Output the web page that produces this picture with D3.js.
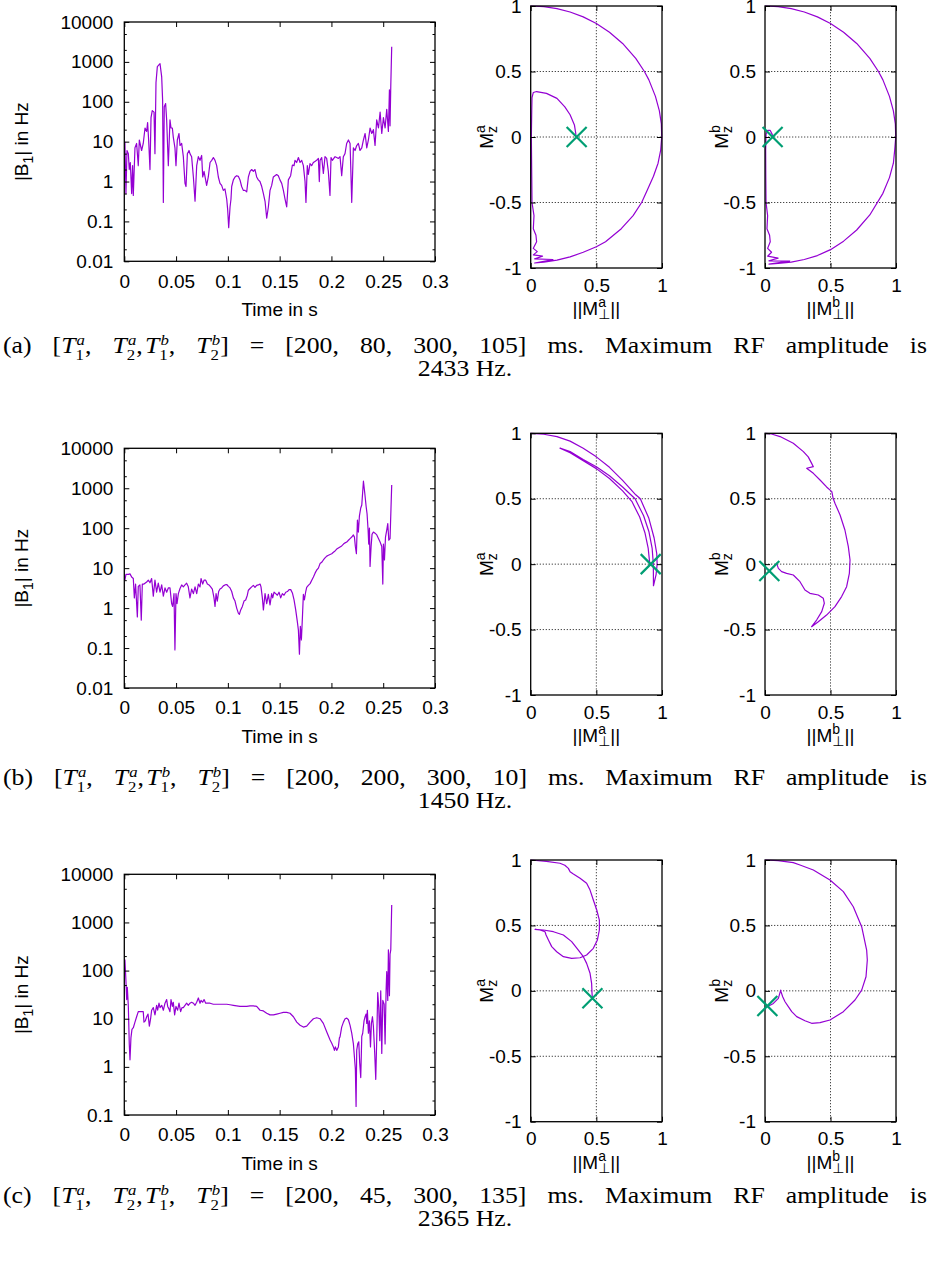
<!DOCTYPE html>
<html><head><meta charset="utf-8">
<script src="https://cdn.jsdelivr.net/npm/d3@7"></script>
<style>body{margin:0;background:#fff}svg{display:block}</style>
</head><body>
<svg id="fig" width="930" height="1265"></svg>
<script>
// ---------------- DATA ----------------
const timeTicks = [0, 0.05, 0.1, 0.15, 0.2, 0.25, 0.3];
const b1TicksAB = [0.01, 0.1, 1, 10, 100, 1000, 10000];
const b1TicksC = [0.1, 1, 10, 100, 1000, 10000];
const mzTicks = [-1, -0.5, 0, 0.5, 1];
const mperpTicks = [0, 0.5, 1];

// |B1| (Hz) versus time (s)
const b1_a = [[0.0006,10],[0.0016,0.5],[0.0026,6],[0.0039,5],[0.0048,2],[0.0058,3],[0.0071,0.5],[0.0080,2.5],[0.0087,0.45],[0.0103,7],[0.0119,9],[0.0135,2.5],[0.0145,11],[0.0167,6],[0.0183,9],[0.0200,22],[0.0216,18],[0.0225,30],[0.0235,11],[0.0248,2],[0.0258,40],[0.0270,60],[0.0287,55],[0.0296,5],[0.0306,300],[0.0319,760],[0.0345,900],[0.0361,420],[0.0370,110],[0.0377,0.3],[0.0386,75],[0.0399,90],[0.0409,35],[0.0425,2.5],[0.0441,35],[0.0451,22],[0.0464,22],[0.0473,13],[0.0489,7],[0.0499,2.5],[0.0512,11],[0.0528,16],[0.0538,8],[0.0554,9],[0.0570,4.2],[0.0586,0.9],[0.0596,0.75],[0.0609,5],[0.0625,6],[0.0634,5],[0.0650,4.2],[0.0667,1.3],[0.0683,0.32],[0.0699,2.5],[0.0715,4.2],[0.0731,3.4],[0.0747,4.5],[0.0757,1.3],[0.0770,1.8],[0.0795,0.8],[0.0811,1.3],[0.0828,3],[0.0844,3.4],[0.0860,4],[0.0876,3.4],[0.0892,2.5],[0.0908,1.3],[0.0924,0.9],[0.0940,0.8],[0.0956,0.6],[0.0972,0.65],[0.0989,0.36],[0.0998,0.2],[0.1008,0.07],[0.1021,0.23],[0.1030,0.36],[0.1037,0.75],[0.1053,1.1],[0.1069,1.3],[0.1085,1.4],[0.1101,1.35],[0.1117,1.1],[0.1133,0.75],[0.1149,0.6],[0.1165,0.6],[0.1182,0.55],[0.1198,1.3],[0.1214,1.8],[0.1230,2],[0.1246,1.8],[0.1262,2],[0.1278,1.3],[0.1294,1.1],[0.1310,1],[0.1327,0.75],[0.1343,0.5],[0.1359,0.32],[0.1375,0.12],[0.1391,0.23],[0.1407,0.6],[0.1423,0.8],[0.1439,1.3],[0.1455,1.4],[0.1471,1.5],[0.1487,1.4],[0.1503,1.1],[0.1520,0.9],[0.1536,0.6],[0.1552,0.36],[0.1568,0.23],[0.1584,1.1],[0.1606,1.4],[0.1623,2.6],[0.1639,2.5],[0.1648,3.4],[0.1664,3],[0.1681,4],[0.1697,3],[0.1713,3.4],[0.1729,2.5],[0.1745,1],[0.1754,0.3],[0.1767,2.5],[0.1777,1.5],[0.1793,2.8],[0.1809,2.5],[0.1825,3],[0.1841,3.2],[0.1857,3.4],[0.1874,3.8],[0.1883,1],[0.1890,3.4],[0.1906,4],[0.1922,1.6],[0.1938,4.2],[0.1954,3.8],[0.1970,1.8],[0.1986,0.45],[0.1996,4],[0.2009,3.4],[0.2035,4.2],[0.2051,4],[0.2067,3.8],[0.2083,4.2],[0.2099,1.4],[0.2115,4.2],[0.2131,5],[0.2147,9],[0.2164,11],[0.2180,9],[0.2196,0.3],[0.2212,7],[0.2228,6],[0.2244,8],[0.2260,9],[0.2276,6],[0.2293,7],[0.2309,11],[0.2325,16],[0.2341,7],[0.2357,11],[0.2373,22],[0.2389,16],[0.2405,20],[0.2421,8],[0.2437,35],[0.2454,22],[0.2470,55],[0.2486,16],[0.2502,40],[0.2518,22],[0.2534,65],[0.2550,18],[0.2560,200],[0.2566,25],[0.2573,250],[0.2582,2400]];

const b1_b = [[0.0006,5],[0.0016,7],[0.0039,7],[0.0055,7.2],[0.0071,6],[0.0087,5.5],[0.0097,1.8],[0.0109,4],[0.0126,0.6],[0.0135,3.5],[0.0151,3.8],[0.0164,0.5],[0.0174,4],[0.0190,4],[0.0216,4.5],[0.0232,5],[0.0248,4.3],[0.0264,5.5],[0.0280,2],[0.0296,5],[0.0312,2.5],[0.0328,4.2],[0.0345,2.5],[0.0361,3.8],[0.0377,2],[0.0393,3.2],[0.0409,2.5],[0.0425,3.2],[0.0441,3.2],[0.0457,1.3],[0.0467,1.1],[0.0480,2.3],[0.0489,0.09],[0.0499,2.3],[0.0509,1.3],[0.0522,2.3],[0.0538,3.1],[0.0554,3.8],[0.0570,3.4],[0.0586,3.8],[0.0602,4.2],[0.0618,3.4],[0.0634,1.8],[0.0650,3],[0.0667,2.3],[0.0683,3.4],[0.0699,2.3],[0.0715,4],[0.0731,3.4],[0.0741,5.5],[0.0757,4],[0.0770,5],[0.0786,5],[0.0802,4],[0.0818,3.8],[0.0834,3.4],[0.0850,3],[0.0866,1.8],[0.0876,1.1],[0.0886,2.3],[0.0898,1.5],[0.0911,2.6],[0.0924,3],[0.0940,3.2],[0.0956,3.6],[0.0972,3.8],[0.0989,3.9],[0.1005,3.5],[0.1021,3.2],[0.1037,2.6],[0.1053,1.8],[0.1069,1.5],[0.1085,1],[0.1101,0.75],[0.1111,0.7],[0.1124,0.9],[0.1140,1.1],[0.1156,1.5],[0.1172,1.6],[0.1188,2.1],[0.1198,2.8],[0.1214,3.1],[0.1230,3.4],[0.1246,3.7],[0.1262,3.3],[0.1278,3.7],[0.1294,3.8],[0.1311,4],[0.1320,3.4],[0.1333,1.8],[0.1343,0.9],[0.1359,2.3],[0.1375,1.3],[0.1391,2.2],[0.1407,1.2],[0.1423,2.3],[0.1433,1.8],[0.1446,2.5],[0.1462,2.3],[0.1478,2.1],[0.1494,2.5],[0.1510,1.8],[0.1526,2.3],[0.1542,2.1],[0.1559,2.5],[0.1575,2.6],[0.1591,2.9],[0.1607,2.9],[0.1623,2.4],[0.1639,1.6],[0.1655,0.9],[0.1671,0.45],[0.1681,0.28],[0.1691,0.07],[0.1700,0.35],[0.1710,0.16],[0.1720,0.6],[0.1729,2.2],[0.1739,1.6],[0.1752,2.6],[0.1761,3.3],[0.1777,3.7],[0.1794,4.1],[0.1810,5],[0.1826,6],[0.1842,7.5],[0.1858,9],[0.1874,10],[0.1890,13],[0.1906,14],[0.1922,16],[0.1938,18],[0.1955,20],[0.1971,21],[0.1987,22],[0.2003,23],[0.2019,25],[0.2035,27],[0.2051,30],[0.2067,32],[0.2083,34],[0.2099,36],[0.2116,40],[0.2132,43],[0.2148,45],[0.2164,50],[0.2180,55],[0.2196,60],[0.2212,68],[0.2222,60],[0.2231,35],[0.2241,23],[0.2251,160],[0.2260,80],[0.2270,200],[0.2283,320],[0.2293,380],[0.2309,1500],[0.2322,750],[0.2335,350],[0.2344,230],[0.2354,90],[0.2360,40],[0.2367,100],[0.2373,11],[0.2383,35],[0.2392,70],[0.2405,80],[0.2421,75],[0.2438,68],[0.2454,55],[0.2470,45],[0.2486,35],[0.2496,4],[0.2502,40],[0.2512,16],[0.2522,60],[0.2534,90],[0.2544,130],[0.2554,50],[0.2566,55],[0.2582,1200]];

const b1_c = [[0.0006,170],[0.0016,60],[0.0023,25],[0.0029,45],[0.0039,18],[0.0048,3],[0.0055,1.4],[0.0064,4],[0.0074,6],[0.0087,6.5],[0.0103,8.5],[0.0119,11],[0.0135,14],[0.0151,14],[0.0167,14],[0.0183,14],[0.0190,8.5],[0.0203,9],[0.0216,11],[0.0229,12.5],[0.0242,7],[0.0254,10],[0.0264,15],[0.0280,17],[0.0296,12],[0.0312,19],[0.0322,15],[0.0335,21],[0.0345,17],[0.0361,19],[0.0377,15],[0.0393,21],[0.0409,25],[0.0419,18],[0.0431,16],[0.0441,14],[0.0451,25],[0.0464,18],[0.0473,22],[0.0486,12],[0.0499,18],[0.0515,15],[0.0528,21],[0.0544,14],[0.0557,17],[0.0570,17],[0.0586,19],[0.0602,21],[0.0618,19],[0.0634,21],[0.0650,22],[0.0667,21],[0.0683,19],[0.0699,22],[0.0715,27],[0.0731,21],[0.0741,24],[0.0757,22],[0.0770,25],[0.0786,21],[0.0802,21],[0.0828,21],[0.0860,20],[0.0892,20],[0.0924,20],[0.0956,20],[0.0989,20],[0.1021,19.5],[0.1053,19],[0.1085,18.5],[0.1117,18],[0.1150,18],[0.1182,18],[0.1214,18.5],[0.1246,18.5],[0.1278,18],[0.1311,15],[0.1343,14.5],[0.1375,13],[0.1407,12],[0.1440,12],[0.1472,12.5],[0.1504,13],[0.1536,13.5],[0.1568,13.5],[0.1600,13],[0.1633,11],[0.1665,8.5],[0.1697,7.3],[0.1729,6.7],[0.1761,7],[0.1794,8.5],[0.1826,10],[0.1858,10.5],[0.1890,10],[0.1922,8],[0.1955,5.3],[0.1987,3.6],[0.2003,3.1],[0.2019,2.6],[0.2029,2.2],[0.2038,2.6],[0.2051,2.2],[0.2067,2.6],[0.2077,4],[0.2083,4.2],[0.2099,6.7],[0.2116,8.5],[0.2132,10],[0.2148,10.3],[0.2164,9.5],[0.2180,7.3],[0.2196,5],[0.2212,3],[0.2222,1.6],[0.2231,0.9],[0.2238,0.15],[0.2244,2.2],[0.2254,3],[0.2264,3.3],[0.2273,1.2],[0.2283,0.6],[0.2293,4.3],[0.2302,5],[0.2315,9],[0.2325,11],[0.2335,12.5],[0.2341,8],[0.2347,15],[0.2357,5],[0.2367,9],[0.2377,2.6],[0.2386,8],[0.2396,11],[0.2405,7],[0.2418,1.9],[0.2428,0.55],[0.2438,4.3],[0.2447,35],[0.2457,17],[0.2467,3.5],[0.2476,38],[0.2486,1.9],[0.2496,24],[0.2509,20],[0.2518,3],[0.2528,40],[0.2534,95],[0.2544,24],[0.2550,270],[0.2560,30],[0.2566,220],[0.2573,270],[0.2582,2300]];

// Magnetisation trajectories [||M_perp||, M_z]
const traj_aa = [[0,1],[0.1,0.995],[0.2,0.98],[0.3,0.954],[0.4,0.917],[0.5,0.866],[0.6,0.8],[0.7,0.714],[0.8,0.6],[0.866,0.5],[0.9,0.436],[0.95,0.31],[0.98,0.2],[0.995,0.1],[0.998,0],[0.99,-0.1],[0.97,-0.2],[0.935,-0.3],[0.89,-0.4],[0.845,-0.5],[0.78,-0.6],[0.69,-0.7],[0.57,-0.8],[0.5,-0.838],[0.4,-0.88],[0.3,-0.915],[0.2,-0.94],[0.1,-0.955],[0.03,-0.962],[0.12,-0.945],[0.17,-0.935],[0.03,-0.93],[0.09,-0.91],[0.02,-0.9],[0.05,-0.875],[0.02,-0.85],[0.045,-0.8],[0.04,-0.75],[0.02,-0.7],[0.025,-0.6],[0.01,-0.5],[0.008,-0.3],[0.005,0],[0.008,0.2],[0.01,0.3],[0.02,0.34],[0.045,0.347],[0.12,0.333],[0.2,0.295],[0.26,0.23],[0.3,0.17],[0.333,0.092],[0.343,0.028],[0.345,0]];
const traj_ab = [[0,1],[0.1,0.995],[0.2,0.98],[0.3,0.954],[0.4,0.917],[0.5,0.866],[0.6,0.8],[0.7,0.714],[0.8,0.6],[0.866,0.5],[0.9,0.436],[0.95,0.31],[0.98,0.2],[0.995,0.1],[0.998,0],[0.99,-0.1],[0.98,-0.2],[0.95,-0.31],[0.9,-0.43],[0.8,-0.595],[0.7,-0.71],[0.6,-0.795],[0.5,-0.86],[0.4,-0.905],[0.3,-0.935],[0.2,-0.955],[0.1,-0.965],[0.03,-0.97],[0.19,-0.947],[0.03,-0.945],[0.1,-0.925],[0.02,-0.91],[0.05,-0.88],[0.02,-0.85],[0.04,-0.8],[0.035,-0.75],[0.015,-0.7],[0.02,-0.6],[0.008,-0.5],[0.006,-0.3],[0.005,-0.1],[0.008,0.02],[0.02,0.05],[0.04,0.05],[0.055,0.02],[0.06,0]];
const traj_ba = [[0,1],[0.1,0.993],[0.2,0.975],[0.3,0.94],[0.4,0.885],[0.5,0.82],[0.6,0.74],[0.7,0.64],[0.8,0.53],[0.835,0.5],[0.9,0.35],[0.94,0.2],[0.96,0.08],[0.963,0],[0.955,-0.08],[0.935,-0.165],[0.934,0],[0.925,0.12],[0.9,0.25],[0.86,0.37],[0.795,0.5],[0.7,0.59],[0.6,0.675],[0.5,0.745],[0.4,0.8],[0.3,0.86],[0.223,0.887],[0.3,0.852],[0.4,0.79],[0.5,0.73],[0.6,0.655],[0.7,0.56],[0.77,0.48],[0.83,0.36],[0.87,0.24],[0.895,0.12],[0.905,0.02],[0.912,0]];
const traj_bb = [[0,1],[0.05,0.995],[0.115,0.975],[0.216,0.924],[0.293,0.86],[0.33,0.82],[0.356,0.77],[0.369,0.745],[0.318,0.733],[0.369,0.694],[0.42,0.643],[0.47,0.59],[0.51,0.554],[0.52,0.503],[0.534,0.465],[0.573,0.376],[0.61,0.261],[0.636,0.134],[0.649,0.032],[0.644,-0.07],[0.623,-0.172],[0.585,-0.248],[0.534,-0.325],[0.47,-0.389],[0.407,-0.44],[0.356,-0.478],[0.394,-0.427],[0.433,-0.363],[0.453,-0.299],[0.445,-0.261],[0.407,-0.236],[0.343,-0.223],[0.305,-0.198],[0.267,-0.134],[0.216,-0.083],[0.165,-0.07],[0.127,-0.057],[0.102,-0.032],[0.089,0.006],[0.07,-0.02],[0.045,-0.04]];
const traj_ca = [[0,1],[0.12,0.99],[0.223,0.975],[0.26,0.96],[0.287,0.936],[0.3,0.91],[0.325,0.893],[0.376,0.86],[0.426,0.822],[0.452,0.77],[0.477,0.694],[0.503,0.618],[0.523,0.541],[0.523,0.465],[0.508,0.389],[0.477,0.325],[0.426,0.274],[0.376,0.253],[0.312,0.248],[0.249,0.261],[0.198,0.299],[0.16,0.338],[0.135,0.389],[0.117,0.427],[0.109,0.452],[0.071,0.465],[0.033,0.47],[0.096,0.465],[0.173,0.452],[0.249,0.427],[0.312,0.376],[0.363,0.312],[0.401,0.261],[0.426,0.21],[0.452,0.134],[0.464,0.057],[0.467,-0.019],[0.47,-0.057]];
const traj_cb = [[0,1],[0.1,0.995],[0.216,0.98],[0.267,0.962],[0.369,0.924],[0.496,0.847],[0.598,0.758],[0.674,0.643],[0.738,0.49],[0.776,0.312],[0.781,0.236],[0.771,0.108],[0.738,0.006],[0.687,-0.07],[0.598,-0.159],[0.496,-0.223],[0.42,-0.243],[0.356,-0.248],[0.305,-0.228],[0.242,-0.197],[0.204,-0.159],[0.178,-0.121],[0.153,-0.083],[0.135,-0.045],[0.122,-0.006],[0.12,0.006],[0.102,-0.057],[0.064,-0.096],[0.018,-0.121]];

// final magnetisation markers
const end_aa = [0.35, 0];
const end_ab = [0.058, 0];
const end_ba = [0.914, 0];
const end_bb = [0.033, -0.052];
const end_ca = [0.47, -0.057];
const end_cb = [0.018, -0.116];

// captions
const captionTags = ["(a)", "(b)", "(c)"];
const relaxTimes = [[200, 80, 300, 105], [200, 200, 300, 10], [200, 45, 300, 135]];
const maxRF = [2433, 1450, 2365];

// ---------------- LAYOUT ----------------
const SANS = "'Liberation Sans', Arial, 'DejaVu Sans', sans-serif";
const SERIF = "'Liberation Serif', 'Times New Roman', serif";
const PURPLE = "#9400D3", GREEN = "#009E73";
const FS = 19, FSS = 14;
const CAPFS = 23, CAPSX = 1.12;
const RAx = [530.7, 662], RBx = [765, 896];
const rows = [
  {b1: b1_a, dom: [0.01, 10000], ticks: b1TicksAB, ma: traj_aa, mb: traj_ab, ea: end_aa, eb: end_ab,
   L: {y0: 22, y1: 261.3}, R: {y0: 6, y1: 268}, cap: 353},
  {b1: b1_b, dom: [0.01, 10000], ticks: b1TicksAB, ma: traj_ba, mb: traj_bb, ea: end_ba, eb: end_bb,
   L: {y0: 448.3, y1: 688}, R: {y0: 433.3, y1: 695}, cap: 785},
  {b1: b1_c, dom: [0.1, 10000], ticks: b1TicksC, ma: traj_ca, mb: traj_cb, ea: end_ca, eb: end_cb,
   L: {y0: 874.3, y1: 1115}, R: {y0: 860, y1: 1121.7}, cap: 1203}
];
const LX = [124.3, 435];

const svg = d3.select("#fig");
svg.append("rect").attr("width", 930).attr("height", 1265).attr("fill", "#fff");

// lay out a sequence of pieces: {t, it} or {sup, sub} or {gap}
function runs(g, pieces, o) {
  let x = 0;
  pieces.forEach(p => {
    if (p.gap !== undefined) { x += p.gap; return; }
    if (p.t !== undefined) {
      const t = g.append("text").attr("x", x).attr("y", 0)
        .attr("font-family", o.family).attr("font-size", o.size)
        .attr("font-style", p.it ? "italic" : "normal").attr("fill", "#000").text(p.t);
      x += t.node().getComputedTextLength();
      return;
    }
    let w = 0;
    if (p.sup !== undefined) {
      const a = g.append("text").attr("x", x + (o.supShift || 0)).attr("y", o.supDy)
        .attr("font-family", o.family).attr("font-size", o.sub)
        .attr("font-style", o.supItalic ? "italic" : "normal").attr("fill", "#000").text(p.sup);
      w = Math.max(w, a.node().getComputedTextLength() + (o.supShift || 0));
    }
    if (p.sub !== undefined) {
      const b = g.append("text").attr("x", x).attr("y", o.subDy)
        .attr("font-family", o.family).attr("font-size", o.sub).attr("fill", "#000").text(p.sub);
      w = Math.max(w, b.node().getComputedTextLength());
    }
    x += w;
  });
  return x;
}
function centeredLabel(x, y, rot, pieces, o) {
  const outer = svg.append("g").attr("transform", `translate(${x},${y}) rotate(${rot})`);
  const inner = outer.append("g");
  const w = runs(inner, pieces, o);
  inner.attr("transform", `translate(${-w / 2},0)`);
}
function styleAxis(g) {
  g.attr("font-family", SANS).attr("font-size", FS);
  g.select(".domain").remove();
  g.selectAll(".tick line").attr("stroke", "#000").attr("stroke-width", 1);
  g.selectAll(".tick text").attr("fill", "#000");
}
const labelOpts = {family: SANS, size: FS, sub: FSS, supDy: -8, subDy: 4};

rows.forEach((r, i) => {
  // ----- |B1| panel -----
  const x = d3.scaleLinear().domain([0, 0.3]).range(LX);
  const y = d3.scaleLog().domain(r.dom).range([r.L.y1, r.L.y0]);
  const g = svg.append("g");
  g.append("path").datum(r.b1)
    .attr("d", d3.line().x(d => x(d[0])).y(d => y(d[1])))
    .attr("fill", "none").attr("stroke", PURPLE).attr("stroke-width", 1.2).attr("stroke-linejoin", "round");
  const minor = [];
  r.ticks.forEach(v => [2, 5].forEach(m => { if (v * m < r.dom[1]) minor.push(v * m); }));
  styleAxis(g.append("g").attr("transform", `translate(0,${r.L.y1})`)
    .call(d3.axisBottom(x).tickValues(timeTicks).tickSizeInner(-5).tickSizeOuter(0).tickPadding(12.8).tickFormat(d => String(d))));
  styleAxis(g.append("g").attr("transform", `translate(0,${r.L.y0})`)
    .call(d3.axisTop(x).tickValues(timeTicks).tickSizeInner(-5).tickSizeOuter(0).tickFormat(() => "")));
  styleAxis(g.append("g").attr("transform", `translate(${LX[0]},0)`)
    .call(d3.axisLeft(y).tickValues(r.ticks).tickSizeInner(-5).tickSizeOuter(0).tickPadding(11).tickFormat(d => String(d))));
  styleAxis(g.append("g").attr("transform", `translate(${LX[1]},0)`)
    .call(d3.axisRight(y).tickValues(r.ticks).tickSizeInner(-5).tickSizeOuter(0).tickFormat(() => "")));
  styleAxis(g.append("g").attr("transform", `translate(${LX[0]},0)`)
    .call(d3.axisLeft(y).tickValues(minor).tickSizeInner(-2.5).tickSizeOuter(0).tickFormat(() => "")));
  styleAxis(g.append("g").attr("transform", `translate(${LX[1]},0)`)
    .call(d3.axisRight(y).tickValues(minor).tickSizeInner(-2.5).tickSizeOuter(0).tickFormat(() => "")));
  g.append("rect").attr("x", LX[0]).attr("y", r.L.y0).attr("width", LX[1] - LX[0]).attr("height", r.L.y1 - r.L.y0)
    .attr("fill", "none").attr("stroke", "#000").attr("stroke-width", 1.3);
  g.append("text").attr("x", (LX[0] + LX[1]) / 2).attr("y", r.L.y1 + 54.5)
    .attr("text-anchor", "middle").attr("font-family", SANS).attr("font-size", FS).text("Time in s");
  centeredLabel(28, (r.L.y0 + r.L.y1) / 2, -90, [{t: "|B"}, {sub: "1"}, {t: "| in Hz"}],
    {family: SANS, size: FS, sub: FSS, supDy: -8, subDy: 5});

  // ----- magnetisation panels -----
  [[RAx, r.ma, r.ea, "a"], [RBx, r.mb, r.eb, "b"]].forEach(([X, data, end, tag]) => {
    const mx = d3.scaleLinear().domain([0, 1]).range(X);
    const my = d3.scaleLinear().domain([-1, 1]).range([r.R.y1, r.R.y0]);
    const h = svg.append("g");
    mperpTicks.filter(v => v > 0 && v < 1).forEach(v =>
      h.append("line").attr("x1", mx(v)).attr("x2", mx(v)).attr("y1", r.R.y0).attr("y2", r.R.y1)
        .attr("stroke", "#333").attr("stroke-width", 0.9).attr("stroke-dasharray", "1.3,1.7"));
    mzTicks.filter(v => v > -1 && v < 1).forEach(v =>
      h.append("line").attr("x1", X[0]).attr("x2", X[1]).attr("y1", my(v)).attr("y2", my(v))
        .attr("stroke", "#333").attr("stroke-width", 0.9).attr("stroke-dasharray", "1.3,1.7"));
    h.append("path").datum(data)
      .attr("d", d3.line().x(d => mx(d[0])).y(d => my(d[1])))
      .attr("fill", "none").attr("stroke", PURPLE).attr("stroke-width", 1.2).attr("stroke-linejoin", "round");
    styleAxis(h.append("g").attr("transform", `translate(0,${r.R.y1})`)
      .call(d3.axisBottom(mx).tickValues(mperpTicks).tickSizeInner(-5).tickSizeOuter(0).tickPadding(10.3).tickFormat(d => String(d))));
    styleAxis(h.append("g").attr("transform", `translate(0,${r.R.y0})`)
      .call(d3.axisTop(mx).tickValues(mperpTicks).tickSizeInner(-5).tickSizeOuter(0).tickFormat(() => "")));
    styleAxis(h.append("g").attr("transform", `translate(${X[0]},0)`)
      .call(d3.axisLeft(my).tickValues(mzTicks).tickSizeInner(-5).tickSizeOuter(0).tickPadding(9).tickFormat(d => String(d))));
    styleAxis(h.append("g").attr("transform", `translate(${X[1]},0)`)
      .call(d3.axisRight(my).tickValues(mzTicks).tickSizeInner(-5).tickSizeOuter(0).tickFormat(() => "")));
    h.append("rect").attr("x", X[0]).attr("y", r.R.y0).attr("width", X[1] - X[0]).attr("height", r.R.y1 - r.R.y0)
      .attr("fill", "none").attr("stroke", "#000").attr("stroke-width", 1.3);
    const cx = mx(end[0]), cy = my(end[1]), s = 10;
    h.append("path").attr("d", `M${cx - s},${cy - s}L${cx + s},${cy + s}M${cx - s},${cy + s}L${cx + s},${cy - s}`)
      .attr("stroke", GREEN).attr("stroke-width", 2.2).attr("fill", "none");
    centeredLabel((X[0] + X[1]) / 2, r.R.y1 + 47, 0, [{t: "||M"}, {sup: tag, sub: "\u22A5"}, {t: "||"}], labelOpts);
    centeredLabel(X[0] - 37.4, (r.R.y0 + r.R.y1) / 2, -90, [{t: "M"}, {sup: tag, sub: "z"}], labelOpts);
  });

  // ----- caption (justified first line, centred last line) -----
  const v = relaxTimes[i];
  const words = [
    [{t: captionTags[i]}],
    [{t: "["}, {t: "T", it: true}, {sup: "a", sub: "1"}, {t: ","}],
    [{t: "T", it: true}, {sup: "a", sub: "2"}, {t: ","}, {gap: 2}, {t: "T", it: true}, {sup: "b", sub: "1"}, {t: ","}],
    [{t: "T", it: true}, {sup: "b", sub: "2"}, {t: "]"}],
    [{t: "="}],
    [{t: "[" + v[0] + ","}], [{t: v[1] + ","}], [{t: v[2] + ","}], [{t: v[3] + "]"}],
    [{t: "ms."}], [{t: "Maximum"}], [{t: "RF"}], [{t: "amplitude"}], [{t: "is"}]
  ];
  const capOpts = {family: SERIF, size: CAPFS, sub: 15, supDy: -8, subDy: 7, supItalic: true, supShift: 1};
  const cg = svg.append("g");
  const placed = words.map(w => { const wg = cg.append("g"); return {wg, w: runs(wg, w, capOpts) * CAPSX}; });
  const total = d3.sum(placed, p => p.w);
  const gap = (927 - 3 - total) / (placed.length - 1);
  let cx = 3;
  placed.forEach(p => { p.wg.attr("transform", `translate(${cx},${r.cap}) scale(${CAPSX},1)`); cx += p.w + gap; });
  svg.append("text").attr("transform", `translate(465,${r.cap + 23}) scale(${CAPSX},1)`).attr("text-anchor", "middle")
    .attr("font-family", SERIF).attr("font-size", CAPFS).attr("fill", "#000").text(maxRF[i] + " Hz.");
});
</script>
</body></html>
